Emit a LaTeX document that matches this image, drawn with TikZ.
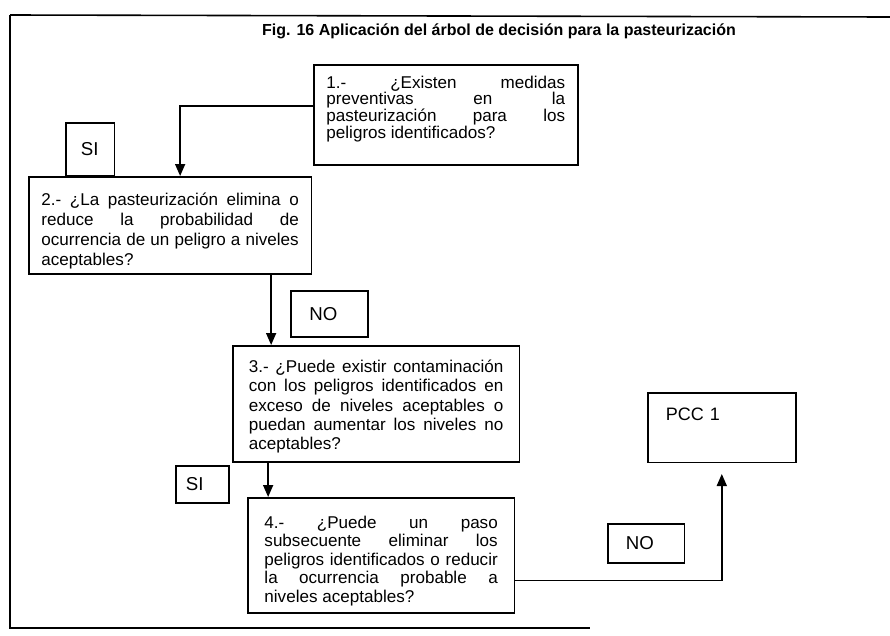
\documentclass[tikz,border=0pt]{standalone}
\usepackage{fontspec}
\setmainfont{Liberation Sans}
\usetikzlibrary{arrows.meta,positioning}
\hyphenpenalty=10000
\tolerance=10000
\hbadness=10000

\tikzset{
  pregunta/.style={draw, line width=1.2pt, anchor=north west, align=justify,
    inner ysep=0pt},
  resp/.style={draw, line width=1.2pt, anchor=north west, align=left,
    font=\fontsize{14}{16}\selectfont},
  flecha/.style={line width=1.2pt, -{Triangle[length=9pt,width=7.5pt]}}
}

\begin{document}
\begin{tikzpicture}[x=0.75pt, y=-0.75pt]
\useasboundingbox (0,0) rectangle (890,636);
\draw[line width=1.2pt] (10,15) -- (890,17);
\draw[line width=1.2pt] (10,15) -- (10,628) -- (590,628);
\node (titulo) at (499,31) {\fontsize{12}{14}\selectfont\bfseries Fig. 16 Aplicación del árbol de decisión para la pasteurización};

\node[pregunta, font=\fontsize{12.8}{12.5}\selectfont, inner xsep=9.5pt, text width=179pt,
  text height=17.5pt, text depth=57.5pt] (p1) at (313,64)
  {1.- ¿Existen medidas\linebreak preventivas en la\linebreak pasteurización para los\linebreak peligros identificados?};
\node[pregunta, font=\fontsize{12.8}{15}\selectfont, inner xsep=9.5pt, text width=193pt,
  text height=21.2pt, text depth=51.5pt] (p2) at (28,176)
  {2.- ¿La pasteurización elimina o\linebreak reduce la probabilidad de\linebreak ocurrencia de un peligro a niveles\linebreak aceptables?};
\node[pregunta, font=\fontsize{12.8}{14.6}\selectfont, inner xsep=12pt, text width=191pt,
  text height=19.7pt, text depth=67.3pt] (p3) at (232,345)
  {3.- ¿Puede existir contaminación\linebreak con los peligros identificados en\linebreak exceso de niveles aceptables o\linebreak puedan aumentar los niveles no\linebreak aceptables?};
\node[pregunta, font=\fontsize{12.8}{13.9}\selectfont, inner xsep=12.5pt, text width=175pt,
  text height=22.7pt, text depth=63.5pt] (p4) at (247,497)
  {4.- ¿Puede un paso\linebreak subsecuente eliminar los\linebreak peligros identificados o reducir\linebreak la ocurrencia probable a\linebreak niveles aceptables?};
\node[draw, line width=1.2pt, anchor=north west, font=\fontsize{13.5}{15}\selectfont,
  inner xsep=13.5pt, inner ysep=10.8pt, text width=84pt, text height=9.7pt, text depth=21pt] (pcc) at (647,392) {PCC 1};

\node[resp, inner xsep=11.25pt, text width=14pt, minimum height=39.75pt] (si1) at (65,122) {SI};
\node[resp, inner xsep=14pt, text width=30pt, minimum height=34.5pt] (no1) at (290,290) {NO};
\node[resp, inner xsep=7.5pt, text width=25pt, minimum height=27.75pt] (si2) at (175,465) {SI};
\node[resp, inner xsep=13.5pt, text width=30.5pt, minimum height=29.25pt] (no2) at (607,523) {NO};

\draw[flecha] ([yshift=6.75pt]p1.west) -| ([xshift=7.5pt]p2.north);
\draw[flecha] ([xshift=75.75pt]p2.south) -- ([xshift=75.75pt]p2.south |- p3.north);
\draw[flecha] ([xshift=-81pt]p3.south) -- ([xshift=-81pt]p3.south |- p4.north);
\draw[flecha, shorten >=8pt] ([yshift=-19pt]p4.east) -| (pcc.south);
\end{tikzpicture}
\end{document}
